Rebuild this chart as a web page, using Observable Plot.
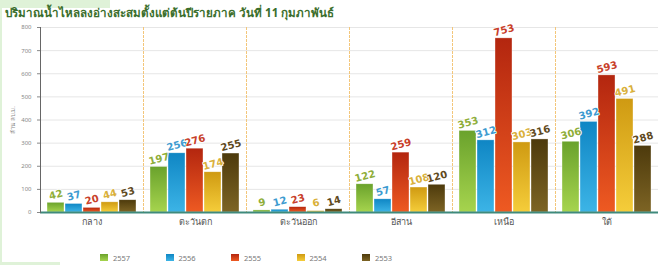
<!DOCTYPE html>
<html><head><meta charset="utf-8">
<script src="https://cdn.jsdelivr.net/npm/d3@7"></script>
<script src="https://cdn.jsdelivr.net/npm/@observablehq/plot@0.6"></script>
<style>
body{margin:0;background:#fff;}
#wrap{position:relative;width:661px;height:265px;overflow:hidden;font-family:"Noto Sans","DejaVu Sans",sans-serif;background:#fff;}
#title{height:18px;padding-top:4px;line-height:18px;padding-left:5px;font-size:11.6px;font-weight:bold;color:#3b6e2c;white-space:nowrap;position:relative;z-index:2;}
#chart{height:218px;}
#legend{height:25px;position:relative;}
.item{position:absolute;top:14px;height:8px;font-size:7.5px;color:#777;line-height:8px;white-space:nowrap;}
.sw{display:inline-block;width:8px;height:7px;vertical-align:top;margin-right:5px;}
.deco1{position:absolute;left:0;top:0;width:110px;height:8px;background:#dff2d8;}
.deco2{position:absolute;left:0;top:0;width:2px;height:262px;background:#dff2d8;}
.deco3{position:absolute;left:0;top:262px;width:60px;height:3px;background:#dff2d8;}
</style></head><body>
<div id="wrap">
<div class="deco1"></div><div class="deco2"></div><div class="deco3"></div>
<div id="title">ปริมาณน้ำไหลลงอ่างสะสมตั้งแต่ต้นปีรายภาค วันที่ 11 กุมภาพันธ์</div>
<div id="chart"></div>
<div id="legend"></div>
</div>
<script>
const regions = ["กลาง","ตะวันตก","ตะวันออก","อีสาน","เหนือ","ใต้"];
const years = ["2557","2556","2555","2554","2553"];
const v2557 = [42,197,9,122,353,306];
const v2556 = [37,256,12,57,312,392];
const v2555 = [20,276,23,259,753,593];
const v2554 = [44,174,6,108,303,491];
const v2553 = [53,255,14,120,316,288];
const yTicks = [0,100,200,300,400,500,600,700,800];
const yLabel = "ล้าน ลบ.ม.";
const topColors = ["#6aa22c","#0f86c4","#b3260f","#cf9a12","#4d3a0c"];
const bottomColors = ["#a6d44e","#3cb4e6","#ee5a22","#f5cd3a","#7d6424"];
const labelColors = ["#8fae3a","#3d9bd0","#c8402a","#d9b03a","#5f4a1e"];

const series = [v2557, v2556, v2555, v2554, v2553];
const table = [];
series.forEach((vals, i) => vals.forEach((v, j) => table.push({region: regions[j], year: years[i], value: v})));

const marks = [
  Plot.gridY(yTicks, {stroke: "#e6e6e6", strokeOpacity: 1}),
  Plot.frame({anchor: "left", stroke: "#f3c67a", strokeDasharray: "2,2"}),
  ...years.map((yr, i) => Plot.barY(table.filter(d => d.year === yr), {
    fx: "region", x: "year", y: "value", fill: `url(#grad${i})`,
    stroke: "#ffffff", strokeOpacity: 0.6, strokeWidth: 0.6
  })),
  Plot.ruleY([0], {stroke: "#3f8a7c", strokeWidth: 2}),
  Plot.frame({anchor: "left", stroke: "#666", facetAnchor: "left"}),
  Plot.axisY(yTicks, {tickSize: 3, fontSize: 6, color: "#888", label: yLabel, labelAnchor: "center", labelArrow: false, labelOffset: 30}),
  Plot.axisFx({anchor: "bottom", tickSize: 0, tickPadding: 6, fontSize: 9, color: "#555", label: null}),
  ...years.map((yr, i) => Plot.text(table.filter(d => d.year === yr), {
    fx: "region", x: "year", y: "value", text: d => String(d.value),
    fill: labelColors[i], stroke: "#ffffff", strokeWidth: 1.5, rotate: -15, dy: -8,
    fontSize: 10, fontWeight: "bold", fontFamily: "DejaVu Sans"
  }))
];

const svg = Plot.plot({
  width: 661, height: 218,
  marginLeft: 38, marginRight: 1, marginTop: 5, marginBottom: 28,
  fx: {domain: regions, padding: 0, axis: null, label: null},
  x: {domain: years, paddingInner: 0.08, paddingOuter: 0.4, axis: null},
  y: {domain: [0, 800], axis: null},
  style: {background: "transparent", fontFamily: "Noto Sans, DejaVu Sans, sans-serif"},
  marks
});

const ns = "http://www.w3.org/2000/svg";
const defs = document.createElementNS(ns, "defs");
years.forEach((yr, i) => {
  const g = document.createElementNS(ns, "linearGradient");
  g.setAttribute("id", `grad${i}`);
  g.setAttribute("x1", "0"); g.setAttribute("y1", "0");
  g.setAttribute("x2", "0"); g.setAttribute("y2", "1");
  [[0, topColors[i]], [1, bottomColors[i]]].forEach(([o, c]) => {
    const s = document.createElementNS(ns, "stop");
    s.setAttribute("offset", o); s.setAttribute("stop-color", c);
    g.appendChild(s);
  });
  defs.appendChild(g);
});
svg.prepend(defs);
document.getElementById("chart").appendChild(svg);

const legend = document.getElementById("legend");
years.forEach((yr, i) => {
  const it = document.createElement("div");
  it.className = "item";
  it.style.left = (100 + i * 65.5) + "px";
  it.innerHTML = `<span class="sw" style="background:linear-gradient(${topColors[i]},${bottomColors[i]})"></span>${yr}`;
  legend.appendChild(it);
});
</script>
</body></html>
